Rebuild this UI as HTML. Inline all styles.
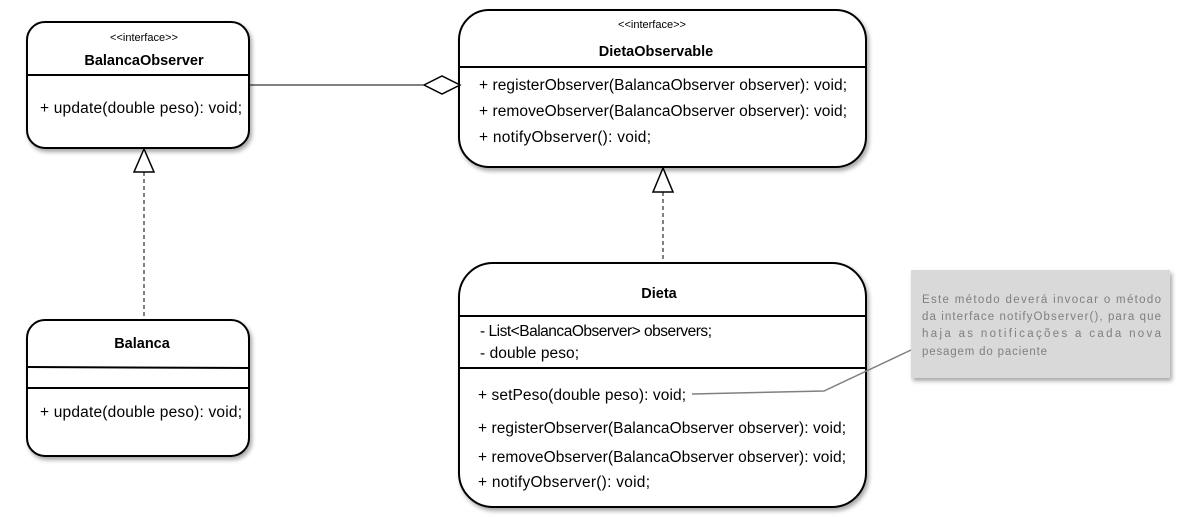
<!DOCTYPE html>
<html><head><meta charset="utf-8"><style>
html,body{margin:0;padding:0;background:#fff;}
svg{display:block;}
text{font-family:"Liberation Sans",sans-serif;fill:#000;}
.m{font-size:15.5px;}
.b{font-size:14.5px;font-weight:bold;}
.s{font-size:11px;}
.n{font-size:11.5px;fill:#7f7f7f;}
</style></head><body>
<svg width="1181" height="517" viewBox="0 0 1181 517" xmlns="http://www.w3.org/2000/svg">
<defs>
<filter id="sh" x="-10%" y="-10%" width="130%" height="130%">
<feDropShadow dx="2" dy="3" stdDeviation="2" flood-color="#000" flood-opacity="0.35"/>
</filter>
</defs>
<!-- BalancaObserver -->
<rect x="27" y="22" width="222" height="126" rx="18" fill="#fff" stroke="#000" stroke-width="2" filter="url(#sh)"/>
<line x1="27" y1="75" x2="249" y2="75" stroke="#000" stroke-width="2"/>
<text class="s" x="144" y="41" text-anchor="middle">&lt;&lt;interface&gt;&gt;</text>
<text class="b" x="144" y="65" text-anchor="middle">BalancaObserver</text>
<text class="m" x="40" y="113" textLength="202">+ update(double peso): void;</text>
<!-- Balanca -->
<rect x="27" y="320" width="222" height="136" rx="18" fill="#fff" stroke="#000" stroke-width="2" filter="url(#sh)"/>
<line x1="27" y1="367" x2="249" y2="368" stroke="#000" stroke-width="2"/>
<line x1="27" y1="388" x2="249" y2="388" stroke="#000" stroke-width="2"/>
<text class="b" x="142" y="348" text-anchor="middle">Balanca</text>
<text class="m" x="40" y="417" textLength="202">+ update(double peso): void;</text>
<!-- DietaObservable -->
<rect x="459" y="10" width="407" height="157" rx="30" fill="#fff" stroke="#000" stroke-width="2" filter="url(#sh)"/>
<line x1="459" y1="67" x2="866" y2="67" stroke="#000" stroke-width="2"/>
<text class="s" x="652" y="28" text-anchor="middle">&lt;&lt;interface&gt;&gt;</text>
<text class="b" x="656" y="56" text-anchor="middle">DietaObservable</text>
<text class="m" x="479" y="90" textLength="368">+ registerObserver(BalancaObserver observer): void;</text>
<text class="m" x="479" y="116" textLength="368">+ removeObserver(BalancaObserver observer): void;</text>
<text class="m" x="479" y="142" textLength="172">+ notifyObserver(): void;</text>
<!-- Dieta -->
<rect x="459" y="263" width="407" height="244" rx="34" fill="#fff" stroke="#000" stroke-width="2" filter="url(#sh)"/>
<line x1="459" y1="316" x2="866" y2="316" stroke="#000" stroke-width="2"/>
<line x1="459" y1="368" x2="866" y2="368" stroke="#000" stroke-width="2"/>
<text class="b" x="659" y="298" text-anchor="middle">Dieta</text>
<text class="m" x="480" y="336" textLength="232">- List&lt;BalancaObserver&gt; observers;</text>
<text class="m" x="480" y="358" textLength="99">- double peso;</text>
<text class="m" x="478" y="400" textLength="208">+ setPeso(double peso): void;</text>
<text class="m" x="478" y="433" textLength="368">+ registerObserver(BalancaObserver observer): void;</text>
<text class="m" x="478" y="462" textLength="368">+ removeObserver(BalancaObserver observer): void;</text>
<text class="m" x="478" y="487" textLength="172">+ notifyObserver(): void;</text>
<!-- aggregation -->
<line x1="249" y1="85" x2="424" y2="85" stroke="#000" stroke-width="1"/>
<polygon points="424,85 442,76 460,85 442,94" fill="#fff" stroke="#000" stroke-width="1.5"/>
<!-- realization BO -->
<line x1="144" y1="172" x2="144" y2="320" stroke="#000" stroke-width="1" stroke-dasharray="4,3"/>
<polygon points="144,149 134,172 154,172" fill="#fff" stroke="#000" stroke-width="1.5"/>
<!-- realization DO -->
<line x1="663" y1="192" x2="663" y2="263" stroke="#000" stroke-width="1" stroke-dasharray="4,3"/>
<polygon points="663,168 653,192 673,192" fill="#fff" stroke="#000" stroke-width="1.5"/>
<!-- note -->
<polyline points="692,394 824,391 911,350" fill="none" stroke="#808080" stroke-width="1.5"/>
<rect x="911" y="270" width="259" height="108" fill="#d9d9d9" filter="url(#sh)"/>
<text class="n" x="922" y="303" textLength="239">Este método deverá invocar o método</text>
<text class="n" x="922" y="320" textLength="239">da interface notifyObserver(), para que</text>
<text class="n" x="922" y="337" textLength="239">haja as notificações a cada nova</text>
<text class="n" x="922" y="355" textLength="125">pesagem do paciente</text>
</svg>
</body></html>
